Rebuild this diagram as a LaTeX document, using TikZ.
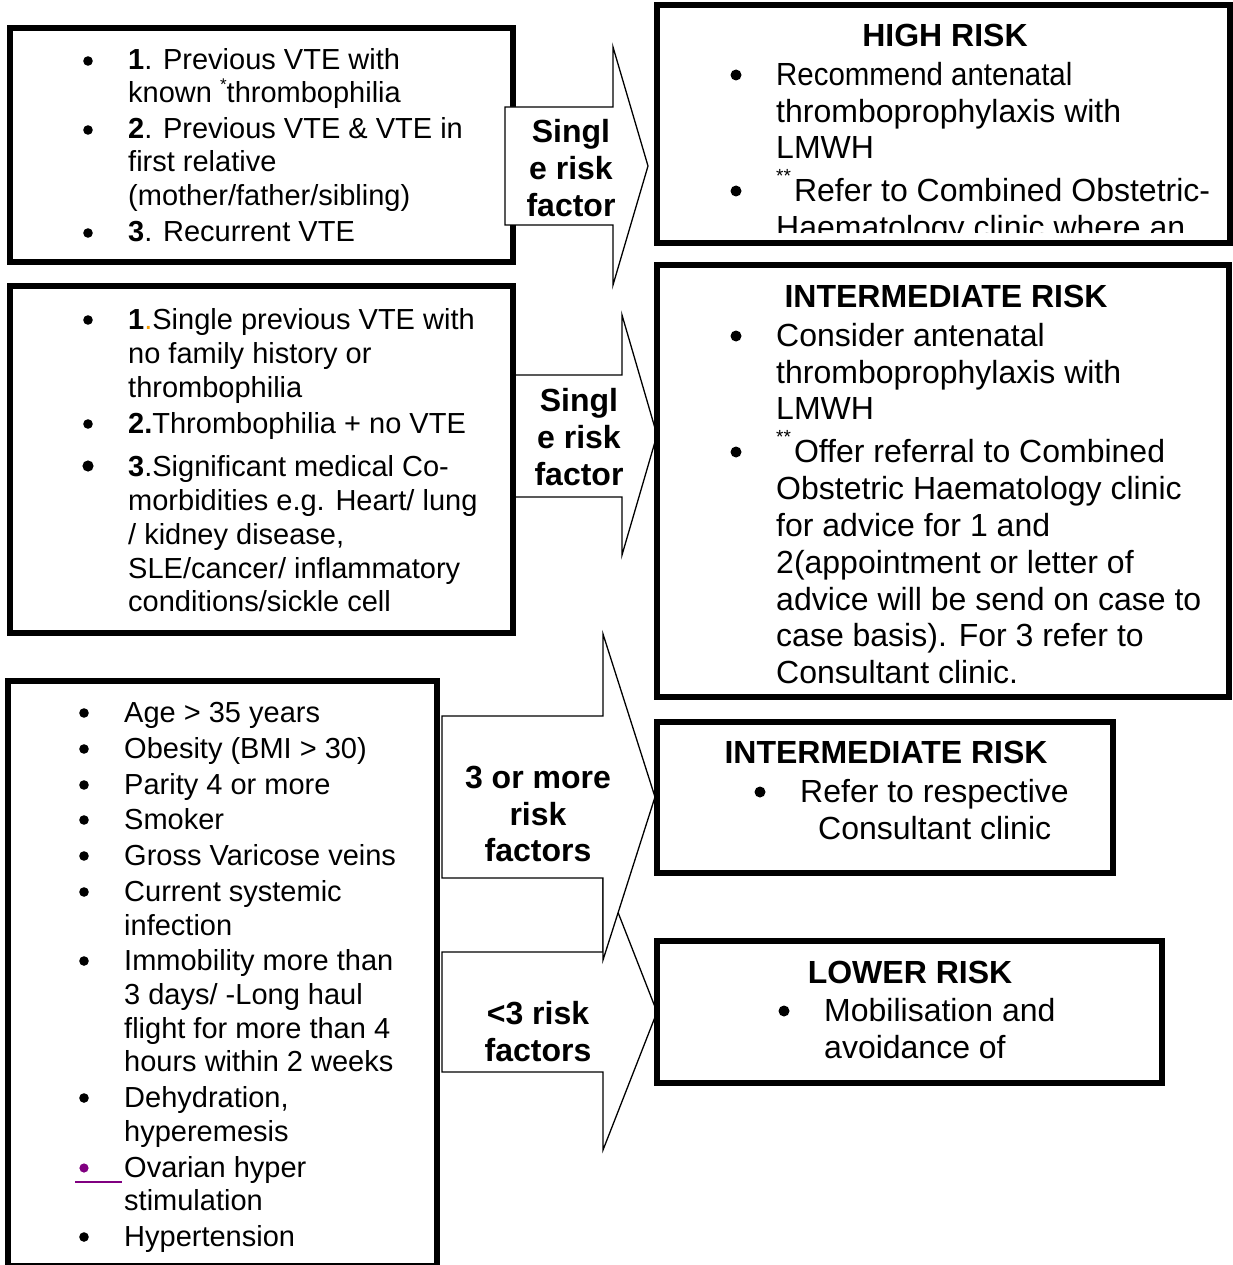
\documentclass[tikz,border=0pt]{standalone}
\usepackage{fontspec}
\setmainfont{Liberation Sans}
\definecolor{orng}{HTML}{F59B00}
\definecolor{purp}{HTML}{800080}
\tikzset{
  box/.style={draw, line width=6pt, inner sep=0pt, outer sep=0pt, anchor=north west},
  blk/.style={draw, line width=1.3pt, fill=white, line join=miter},
  lt/.style={anchor=base west, inner sep=0pt, font=\fontsize{29}{34}\selectfont},
  rt/.style={anchor=base west, inner sep=0pt, font=\fontsize{32}{37}\selectfont},
  hd/.style={anchor=base, inner sep=0pt, font=\fontsize{32}{37}\selectfont\bfseries},
}
\newcommand\sast[2]{\raisebox{#1}{\fontsize{#2}{#2}\selectfont *}}
\newcommand\dast{\raisebox{19pt}{\fontsize{19}{19}\selectfont **}\hspace{3pt}}
\begin{document}
\begin{tikzpicture}[x=1pt,y=-1pt]
\useasboundingbox (0,0) rectangle (1232,1265);
\fill[white] (0,0) rectangle (1232,1265);

% ---------- box 1 and arrow 1
\node[box, minimum width=503, minimum height=234] (b1) at (10,28) {};
\filldraw[blk] (505,107) -- (613,107) -- (613,47) -- (648,166) -- (613,285) -- (613,225) -- (505,225) -- cycle;
\node[hd] (a1l1) at (571,142.5) {Singl};
\node[hd] (a1l2) at (571,179.5) {e risk};
\node[hd] (a1l3) at (571,216.5) {factor};

\fill (88,61) circle (4.8);
\fill (88,130) circle (4.8);
\fill (88,233) circle (4.8);
\node[lt] (t11) at (128,70) {\textbf{1}. Previous VTE with};
\node[lt] (t12) at (128,103) {known \sast{12pt}{17}thrombophilia};
\node[lt] (t13) at (128,139) {\textbf{2}. Previous VTE \& VTE in};
\node[lt] (t14) at (128,172) {first relative};
\node[lt] (t15) at (128,206) {(mother/father/sibling)};
\node[lt] (t16) at (128,242) {\textbf{3}. Recurrent VTE};

% ---------- arrow 2 and box 2
\filldraw[blk] (513,375) -- (622,375) -- (622,315) -- (657,435) -- (622,555) -- (622,497) -- (513,497) -- cycle;
\node[box, minimum width=503, minimum height=347] (b2) at (10,286) {};
\node[hd] (a2l1) at (579,411.5) {Singl};
\node[hd] (a2l2) at (579,448.5) {e risk};
\node[hd] (a2l3) at (579,485.5) {factor};

\fill (88,320) circle (4.8);
\fill (88,424) circle (4.8);
\fill (88,466) circle (5.6);
\node[lt] (t21) at (128,329) {\textbf{1}\textcolor{orng}{.}Single previous VTE with};
\node[lt] (t22) at (128,363) {no family history or};
\node[lt] (t23) at (128,397) {thrombophilia};
\node[lt] (t24) at (128,433) {\textbf{2.}Thrombophilia + no VTE};
\node[lt] (t25) at (128,476) {\textbf{3}.Significant medical Co-};
\node[lt] (t26) at (128,510) {morbidities e.g. Heart/ lung};
\node[lt] (t27) at (128,544) {/ kidney disease,};
\node[lt] (t28) at (128,578) {SLE/cancer/ inflammatory};
\node[lt] (t29) at (128,611) {conditions/sickle cell};

% ---------- box 3 and arrows 3, 4
\node[box, minimum width=429, minimum height=585] (b3) at (8,681) {};
\filldraw[blk] (442,952) -- (603,952) -- (603,874) -- (657,1012) -- (603,1150) -- (603,1072) -- (442,1072) -- cycle;
\filldraw[blk] (442,716) -- (603,716) -- (603,634) -- (655,797) -- (603,960) -- (603,878) -- (442,878) -- cycle;
\node[hd] (a3l1) at (538,788.5) {3 or more};
\node[hd] (a3l2) at (538,825.5) {risk};
\node[hd] (a3l3) at (538,861.5) {factors};
\node[hd] (a4l1) at (538,1024.5) {<3 risk};
\node[hd] (a4l2) at (538,1061.5) {factors};

\foreach \yy in {713,749,785,820,856,892,961,1098,1237} {\fill (84,\yy) circle (4.8);}
\fill[purp] (84,1168) circle (4.6);
\draw[purp, line width=2pt] (75,1182) -- (122,1182);
\node[lt] (t31) at (124,722) {Age > 35 years};
\node[lt] (t32) at (124,758) {Obesity (BMI > 30)};
\node[lt] (t33) at (124,794) {Parity 4 or more};
\node[lt] (t34) at (124,829) {Smoker};
\node[lt] (t35) at (124,865) {Gross Varicose veins};
\node[lt] (t36) at (124,901) {Current systemic};
\node[lt] (t37) at (124,935) {infection};
\node[lt] (t38) at (124,970) {Immobility more than};
\node[lt] (t39) at (124,1004) {3 days/ -Long haul};
\node[lt] (t310) at (124,1038) {flight for more than 4};
\node[lt] (t311) at (124,1071) {hours within 2 weeks};
\node[lt] (t312) at (124,1107) {Dehydration,};
\node[lt] (t313) at (124,1141) {hyperemesis};
\node[lt] (t314) at (124,1177) {Ovarian hyper};
\node[lt] (t315) at (124,1210) {stimulation};
\node[lt] (t316) at (124,1246) {Hypertension};

% ---------- HIGH RISK
\node[box, minimum width=573, minimum height=238] (hr) at (657,5) {};
\begin{scope}
\clip (660,8) rectangle (1226,233);
\node[hd] (hrt) at (945,46.5) {HIGH RISK};
\fill (736,75) circle (5.5);
\fill (736,191) circle (5.5);
\node[rt] (h1) at (776,85.5) {\scalebox{0.92}[1]{Recommend antenatal}};
\node[rt] (h2) at (776,122.5) {thromboprophylaxis with};
\node[rt] (h3) at (776,158.5) {LMWH};
\node[rt] (h4) at (776,201.5) {\dast Refer to Combined Obstetric-};
\node[rt] (h5) at (776,238.5) {Haematology clinic where an};
\end{scope}

% ---------- INTERMEDIATE RISK 1
\node[box, minimum width=572, minimum height=432] (ir1) at (657,265) {};
\node[hd] (i1t) at (946,307.5) {INTERMEDIATE RISK};
\fill (736,336) circle (5.5);
\fill (736,452) circle (5.5);
\node[rt] (i11) at (776,346.5) {Consider antenatal};
\node[rt] (i12) at (776,383.5) {thromboprophylaxis with};
\node[rt] (i13) at (776,419.5) {LMWH};
\node[rt] (i14) at (776,462.5) {\dast Offer referral to Combined};
\node[rt] (i15) at (776,499.5) {Obstetric Haematology clinic};
\node[rt] (i16) at (776,536.5) {for advice for 1 and};
\node[rt] (i17) at (776,573.5) {2(appointment or letter of};
\node[rt] (i18) at (776,610.5) {advice will be send on case to};
\node[rt] (i19) at (776,646.5) {case basis). For 3 refer to};
\node[rt] (i110) at (776,683.5) {Consultant clinic.};

% ---------- INTERMEDIATE RISK 2
\node[box, minimum width=456, minimum height=151] (ir2) at (657,722) {};
\node[hd] (i2t) at (886,763.5) {INTERMEDIATE RISK};
\fill (760,792) circle (5.5);
\node[rt] (i21) at (800,802.5) {Refer to respective};
\node[rt] (i22) at (818,839.5) {Consultant clinic};

% ---------- LOWER RISK
\node[box, minimum width=505, minimum height=142] (lr) at (657,941) {};
\node[hd] (lrt) at (910,983.5) {LOWER RISK};
\fill (784,1011) circle (5.5);
\node[rt] (l1) at (824,1021.5) {Mobilisation and};
\node[rt] (l2) at (824,1058.5) {avoidance of};
\end{tikzpicture}
\end{document}
